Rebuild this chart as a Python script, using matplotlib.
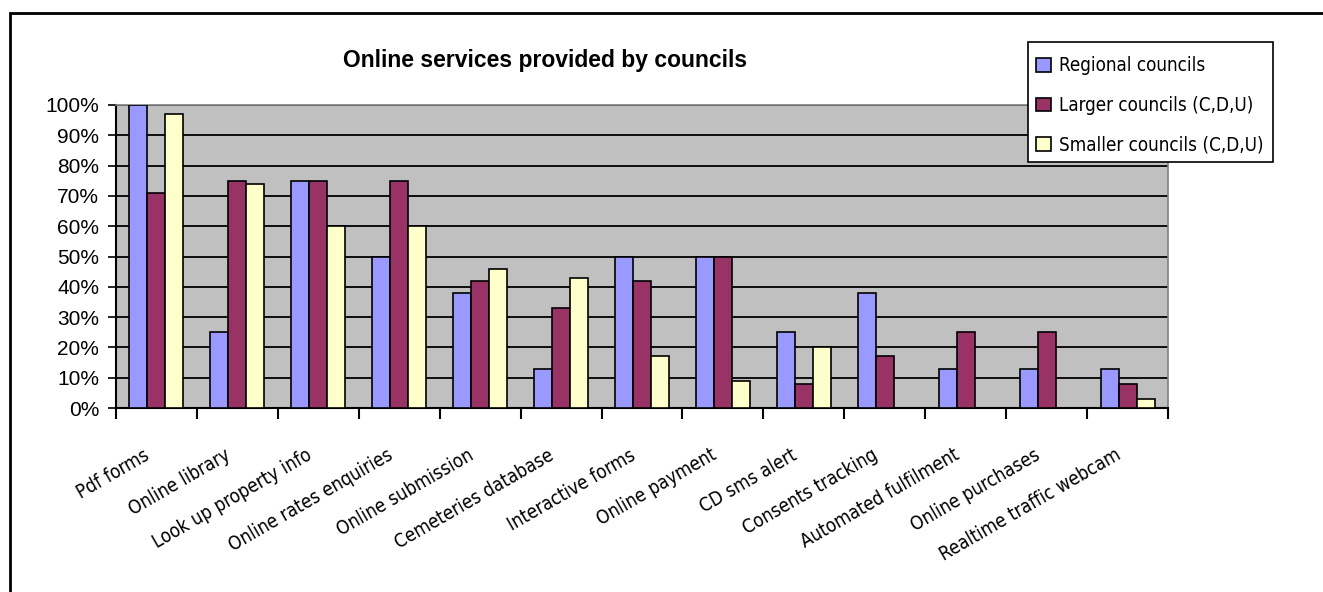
import numpy as np
import matplotlib

matplotlib.use("Agg")
import matplotlib.pyplot as plt
import matplotlib.transforms as mtransforms
from matplotlib.patches import Rectangle
from matplotlib import font_manager

plt.rcParams["font.family"] = ["Liberation Sans", "DejaVu Sans"]

services = [
    "Pdf forms", "Online library", "Look up property info", "Online rates enquiries",
    "Online submission", "Cemeteries database", "Interactive forms", "Online payment",
    "CD sms alert", "Consents tracking", "Automated fulfilment", "Online purchases",
    "Realtime traffic webcam",
]
regional = [100, 25, 75, 50, 38, 13, 50, 50, 25, 38, 13, 13, 13]
larger = [71, 75, 75, 75, 42, 33, 42, 50, 8, 17, 25, 25, 8]
smaller = [97, 74, 60, 60, 46, 43, 17, 9, 20, 0, 0, 0, 3]
series_names = ["Regional councils", "Larger councils (C,D,U)", "Smaller councils (C,D,U)"]
series_colors = ["#9999FF", "#993366", "#FFFFCC"]

# pick an upright condensed face for the category labels if one is installed
narrow = None
for f in font_manager.fontManager.ttflist:
    condensed = "Narrow" in f.name or f.stretch in ("condensed", "semi-condensed")
    upright = f.style == "normal" and f.weight in ("normal", 400, "regular", "book")
    if condensed and upright and "Sans" in f.name:
        narrow = f.fname
        break
label_font = font_manager.FontProperties(fname=narrow, size=13.5) if narrow else \
    font_manager.FontProperties(family="Liberation Sans", size=12)
legend_font = font_manager.FontProperties(fname=narrow, size=13.5) if narrow else \
    font_manager.FontProperties(family="Liberation Sans", size=13)

W, H = 1323, 592
fig = plt.figure(figsize=(W / 100, H / 100), dpi=100)

# plot area in pixel coordinates
left, right, top, bottom = 116, 1168, 105, 408
ax = fig.add_axes([left / W, 1 - bottom / H, (right - left) / W, (bottom - top) / H])
ax.set_facecolor("#C0C0C0")

n = len(services)
x = np.arange(n)
bw = 1 / 4.5
for k, (vals, color, name) in enumerate(zip([regional, larger, smaller], series_colors, series_names)):
    ax.bar(x + (k - 1) * bw, vals, width=bw, color=color, edgecolor="black",
           linewidth=1.2, label=name, zorder=3)

ax.set_xlim(-0.5, n - 0.5)
ax.set_ylim(0, 100)
ax.set_yticks(np.arange(0, 101, 10))
ax.set_yticklabels([f"{v}%" for v in range(0, 101, 10)], fontsize=15)
ax.yaxis.grid(True, color="black", linewidth=1.3, zorder=1)
ax.set_axisbelow(True)
ax.tick_params(axis="y", direction="out", length=6, width=1.2, pad=6)

ax.set_xticks(np.arange(-0.5, n, 1.0))
ax.set_xticklabels([])
ax.tick_params(axis="x", which="major", direction="out", length=8, width=1.5, color="black")
ax.set_xticks(x, minor=True)
ax.set_xticklabels(services, minor=True, rotation=30, ha="right", va="top",
                   rotation_mode="anchor", fontproperties=label_font)
ax.tick_params(axis="x", which="minor", length=0, pad=27)
shift = mtransforms.ScaledTranslation(-13 / 100, 0, fig.dpi_scale_trans)
for lbl in ax.get_xticklabels(minor=True):
    lbl.set_transform(lbl.get_transform() + shift)

for side in ["left", "bottom"]:
    ax.spines[side].set_color("black")
    ax.spines[side].set_linewidth(1.5)
for side in ["top", "right"]:
    ax.spines[side].set_color("#808080")
    ax.spines[side].set_linewidth(1.2)

fig.text(545 / W, 1 - 60 / H, "Online services provided by councils",
         ha="center", va="center", fontsize=16.5, fontweight="bold")

# legend box drawn separately so the entries can sit a little low inside it
px = fig.transFigure
fig.patches.append(Rectangle((1028 / W, 1 - 162 / H), 245 / W, 120 / H, transform=px,
                             facecolor="white", edgecolor="black", linewidth=1.2, zorder=4))
leg = fig.legend(*ax.get_legend_handles_labels(), loc="upper left",
                 bbox_to_anchor=(1028 / W, 1 - 48 / H), frameon=False,
                 handlelength=0.75, handleheight=0.75, handletextpad=0.45,
                 labelspacing=1.1, borderpad=0.45, borderaxespad=0, prop=legend_font)
leg.set_zorder(5)

# outer chart border
fig.patches.append(Rectangle((10 / W, -0.1), 1.2, 1 - 13 / H + 0.1, transform=px,
                             fill=False, edgecolor="black", linewidth=2))

fig.savefig("out.png", dpi=100)
